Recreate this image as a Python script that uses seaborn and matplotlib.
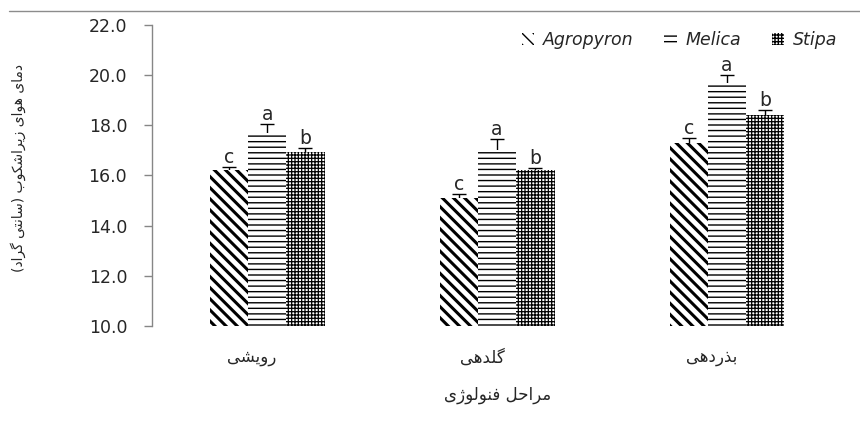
import numpy as np
import pandas as pd
import seaborn as sns
import matplotlib.pyplot as plt
import matplotlib.transforms as mtransforms
from matplotlib.patches import Patch
from matplotlib.lines import Line2D


# Data

stages = ["رویشی", "گلدهی", "بذردهی"]
species = ["Agropyron", "Melica", "Stipa"]

agropyron_mean = [16.2, 15.1, 17.3]
melica_mean = [17.7, 17.0, 19.7]
stipa_mean = [16.95, 16.2, 18.4]

agropyron_err = [0.15, 0.17, 0.18]
melica_err = [0.35, 0.45, 0.3]
stipa_err = [0.15, 0.08, 0.2]

agropyron_letters = ["c", "c", "c"]
melica_letters = ["a", "a", "a"]
stipa_letters = ["b", "b", "b"]

y_ticks = [10.0, 12.0, 14.0, 16.0, 18.0, 20.0, 22.0]

x_title = "مراحل فنولوژی"
y_title = "دمای هوای زیراشکوب (سانتی گراد)"


# Persian text: matplotlib does no shaping, so pick presentation forms and reverse

FORMS = {  # isolated, final, initial, medial
    "ا": ("\uFE8D", "\uFE8E", None, None),
    "ب": ("\uFE8F", "\uFE90", "\uFE91", "\uFE92"),
    "ت": ("\uFE95", "\uFE96", "\uFE97", "\uFE98"),
    "ح": ("\uFEA1", "\uFEA2", "\uFEA3", "\uFEA4"),
    "د": ("\uFEA9", "\uFEAA", None, None),
    "ذ": ("\uFEAB", "\uFEAC", None, None),
    "ر": ("\uFEAD", "\uFEAE", None, None),
    "ز": ("\uFEAF", "\uFEB0", None, None),
    "ژ": ("\uFB8A", "\uFB8B", None, None),
    "س": ("\uFEB1", "\uFEB2", "\uFEB3", "\uFEB4"),
    "ش": ("\uFEB5", "\uFEB6", "\uFEB7", "\uFEB8"),
    "ف": ("\uFED1", "\uFED2", "\uFED3", "\uFED4"),
    "ک": ("\uFB8E", "\uFB8F", "\uFB90", "\uFB91"),
    "گ": ("\uFB92", "\uFB93", "\uFB94", "\uFB95"),
    "ل": ("\uFEDD", "\uFEDE", "\uFEDF", "\uFEE0"),
    "م": ("\uFEE1", "\uFEE2", "\uFEE3", "\uFEE4"),
    "ن": ("\uFEE5", "\uFEE6", "\uFEE7", "\uFEE8"),
    "ه": ("\uFEE9", "\uFEEA", "\uFEEB", "\uFEEC"),
    "و": ("\uFEED", "\uFEEE", None, None),
    "ی": ("\uFBFC", "\uFBFD", "\uFBFE", "\uFBFF"),
}
MIRROR = {"(": ")", ")": "("}


def rtl(text):
    out = []
    for i, ch in enumerate(text):
        if ch not in FORMS:
            out.append(MIRROR.get(ch, ch))
            continue
        prev = text[i - 1] if i > 0 else ""
        nxt = text[i + 1] if i + 1 < len(text) else ""
        join_prev = prev in FORMS and FORMS[prev][2] is not None
        join_next = nxt in FORMS and FORMS[ch][2] is not None
        iso, fin, ini, med = FORMS[ch]
        if join_prev and join_next:
            out.append(med)
        elif join_prev:
            out.append(fin)
        elif join_next:
            out.append(ini)
        else:
            out.append(iso)
    return "".join(reversed(out))


df = pd.DataFrame({
    "stage": stages * 3,
    "species": [s for s in species for _ in stages],
    "value": agropyron_mean + melica_mean + stipa_mean,
})
errs = [agropyron_err, melica_err, stipa_err]
letters = [agropyron_letters, melica_letters, stipa_letters]
hatches = ["\\\\\\", "---", "+++++"]
hatch_lw = [2.2, 1.0, 0.9]


sns.set_style("white")
plt.rcParams["font.family"] = ["DejaVu Sans"]

fig = plt.figure(figsize=(8.6, 4.28), dpi=100)
ax = fig.add_axes([0.177, 0.238, 0.802, 0.704])

sns.barplot(data=df, x="stage", y="value", hue="species", order=stages,
            hue_order=species, width=0.5, errorbar=None, legend=False, ax=ax)

bars = ax.patches
for k, p in enumerate(bars):
    s = k // len(stages)
    p.set_facecolor("white")
    p.set_edgecolor("black")
    p.set_linewidth(0)
    p.set_hatch(hatches[s])
    p.set_zorder(2)
    if hasattr(p, "set_hatch_linewidth"):
        p.set_hatch_linewidth(hatch_lw[s])

for s in range(len(species)):
    for i in range(len(stages)):
        p = bars[s * len(stages) + i]
        xc = p.get_x() + p.get_width() / 2
        top = p.get_height()
        ax.errorbar(xc, top, yerr=errs[s][i], fmt="none", ecolor="black",
                    elinewidth=1, capsize=5, capthick=1, zorder=1)
        ax.annotate(letters[s][i], (xc, top + errs[s][i]), xytext=(0, 0),
                    textcoords="offset points", ha="center", va="bottom",
                    fontsize=13.5)

ax.set_xlim(-0.5, len(stages) - 0.5)
ax.set_ylim(10, 22)
ax.set_yticks(y_ticks)
ax.set_yticklabels([f"{v:.1f}" for v in y_ticks], fontsize=12.5)
ax.set_xticks(range(len(stages)))
ax.set_xticklabels([rtl(s) for s in stages], fontsize=12)
ax.tick_params(axis="x", length=0, pad=16)
ax.tick_params(axis="y", direction="out", length=6, width=1, color="#868686",
               pad=12, left=True)

# the category labels sit a little left of the bar groups in the original
shift = mtransforms.ScaledTranslation(-0.15, 0, fig.dpi_scale_trans)
for lab in ax.get_xticklabels():
    lab.set_transform(lab.get_transform() + shift)

for side in ["top", "right", "bottom"]:
    ax.spines[side].set_visible(False)
ax.spines["left"].set_color("#868686")
ax.spines["left"].set_linewidth(1)

ax.set_xlabel(rtl(x_title), fontsize=12, labelpad=14)
ax.set_ylabel(rtl(y_title), fontsize=10)
ax.yaxis.set_label_coords(-0.183, 0.525)

handles = []
for s in range(len(species)):
    h = Patch(facecolor="white", edgecolor="black", linewidth=0, hatch=hatches[s])
    if hasattr(h, "set_hatch_linewidth"):
        h.set_hatch_linewidth(hatch_lw[s])
    handles.append(h)
ax.legend(handles, species, ncol=3, frameon=False, loc="upper right",
          bbox_to_anchor=(1.016, 1.03), prop={"style": "italic", "size": 12.5},
          handlelength=0.7, handleheight=0.7, handletextpad=0.5,
          columnspacing=1.8)

fig.add_artist(Line2D([0.01, 1.0], [0.974, 0.974], color="#8c8c8c", lw=1,
                      transform=fig.transFigure))

fig.savefig("out.png", dpi=100)
